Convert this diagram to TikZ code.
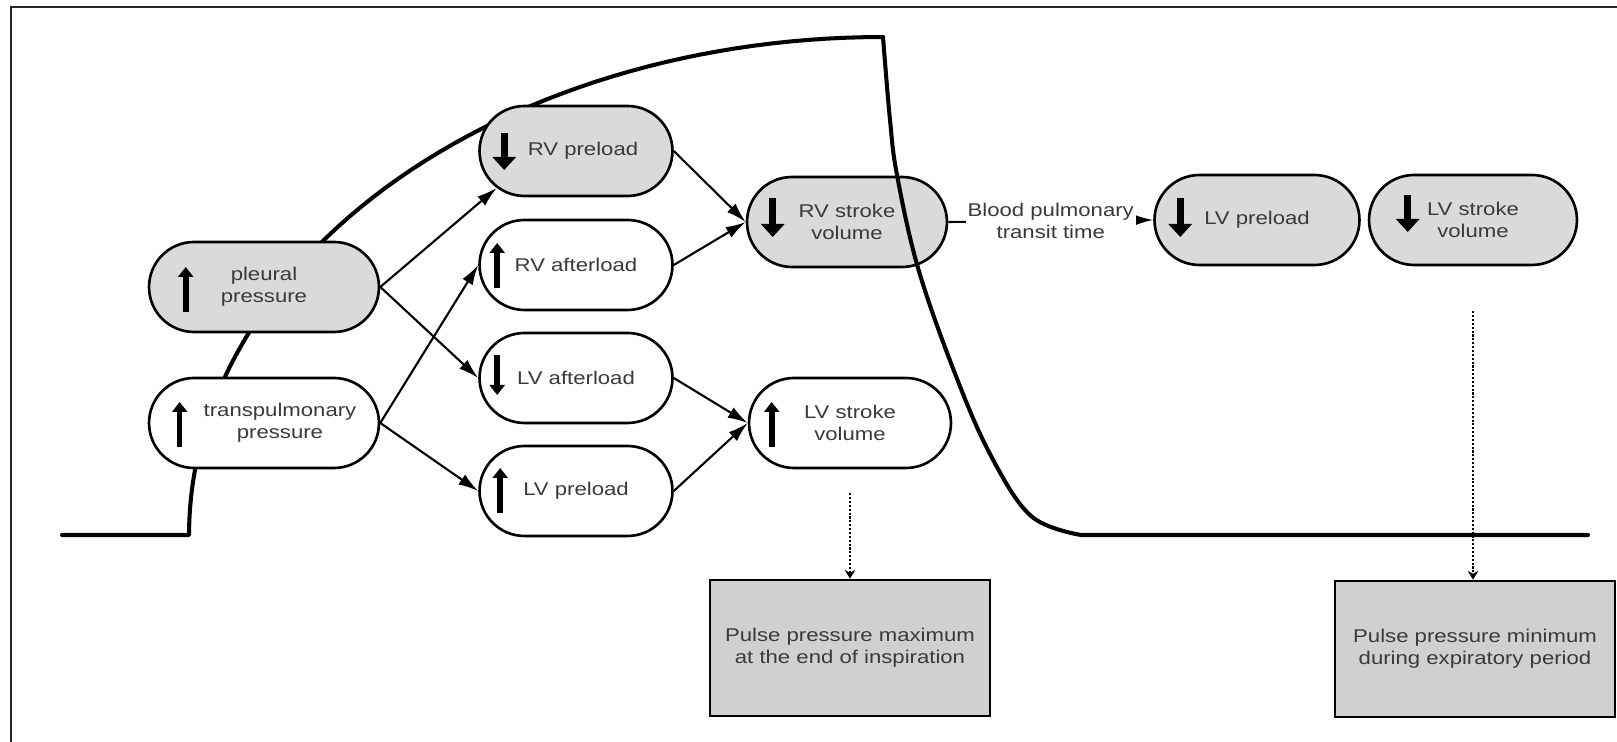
\documentclass[tikz,border=0pt]{standalone}
\usepackage{fontspec}
\setmainfont{Liberation Sans}[FakeStretch=1.2]
\usepackage{tikz}
\usetikzlibrary{arrows.meta,calc,shapes.misc}

\definecolor{stategray}{HTML}{DADADA}
\definecolor{notegray}{HTML}{D0D0D0}
\definecolor{txtgray}{HTML}{3A3A3A}

\tikzset{
	state/.style={rounded rectangle, draw, line width=1.5pt, minimum height=1.8cm,
		inner xsep=-0.5cm, inner ysep=2pt, align=center, text=txtgray,
		font=\fontsize{10.5}{12.5}\selectfont},
	notebox/.style={rectangle, draw, line width=1.5pt, fill=notegray,
		minimum width=5.6cm, minimum height=2.72cm, align=center, text=txtgray,
		font=\fontsize{10.5}{12.5}\selectfont},
	curve/.style={line width=2.3pt, line cap=round, line join=round},
	slimarr/.style={line width=3.6pt, -{Triangle[length=0.2cm,width=0.3cm]}},
	widearr/.style={line width=4pt, -{Triangle[length=0.26cm,width=0.46cm]}},
	notearr/.style={densely dotted, line width=1.2pt, -{Stealth[length=5pt,width=6pt]}}
}

\begin{document}
\begin{tikzpicture}[x=0.02cm, y=-0.02cm, >={Latex[length=0.4cm,width=0.24cm]}]
		\useasboundingbox (0,0) rectangle (1617,742);
		\draw[line width=1.4pt, black!85] (1617,7) -- (11,7) -- (11,742);

		% inspiration
		\draw[curve] (62,535) -- (189,535)
		-- plot[domain=0:90, samples=60] ({883-694*cos(\x)}, {535-498*sin(\x)});

		\node[state, fill=stategray, minimum width=3.6cm] (pl) at (264,287) {pleural\\pressure};
		\node[state, fill=white, minimum width=3.6cm] (tp) at (264,423)
			{\makebox[0pt]{\hspace*{0.64cm}transpulmonary}\\\makebox[0pt]{\hspace*{0.64cm}pressure}};
		\node[state, fill=stategray, minimum width=2.86cm] (rvpre) at (576,151) {\hspace*{0.28cm}RV preload};
		\node[state, fill=white, minimum width=2.86cm] (rvaft) at (576,265) {RV afterload};
		\node[state, fill=white, minimum width=2.86cm] (lvaft) at (576,378) {LV afterload};
		\node[state, fill=white, minimum width=2.86cm] (lvpre) at (576,491) {LV preload};
		\node[state, fill=stategray, minimum width=3cm] (rvsv) at (847,222) {RV stroke\\volume};
		\node[state, fill=white, minimum width=3.04cm] (lvsv) at (850,423) {LV stroke\\volume};
		\node[state, fill=stategray, minimum width=3.1cm] (lvpre2) at (1257,220) {LV preload};
		\node[state, fill=stategray, minimum width=3.16cm] (lvsv2) at (1473,220) {LV stroke\\volume};

		\node[notebox] (box1) at (850,648) {Pulse pressure maximum\\at the end of inspiration};
		\node[notebox] (box2) at (1475,649) {Pulse pressure minimum\\during expiratory period};

		% expiration
		\draw[curve] plot[smooth, tension=0.6] coordinates {(883,37) (890,120) (897,175) (918,268) (954,371) (990,454) (1031,516) (1081,535)} -- (1588,535);

		\path[->, line width=1.2pt]
		(pl.east) edge (rvpre.205)
		edge (lvaft.west)
		(tp.east) edge (rvaft.west)
		edge (lvpre.west)
		(rvpre.east) edge (rvsv.west)
		(rvaft.east) edge (rvsv.west)
		(lvaft.east) edge (lvsv.west)
		(lvpre.east) edge (lvsv.west)
		(rvsv.east) edge node [fill=white, inner sep=1pt, align=center, text=txtgray,
			font=\fontsize{10.5}{12.5}\selectfont] {Blood pulmonary\\transit time} (lvpre2.west)
		;

		\draw[slimarr] ($(pl.west)+(38,25)$) -- ++(0,-45);
		\draw[slimarr, line width=3pt] ($(tp.west)+(32,24)$) -- ++(0,-45);
		\draw[widearr] ($(rvpre.west)+(26,-18)$) -- ++(0,37);
		\draw[slimarr] ($(rvaft.west)+(19,23)$) -- ++(0,-45);
		\draw[slimarr] ($(lvaft.west)+(19,-23)$) -- ++(0,40);
		\draw[slimarr] ($(lvpre.west)+(22,22)$) -- ++(0,-45);
		\draw[widearr] ($(rvsv.west)+(27,-24)$) -- ++(0,39);
		\draw[slimarr] ($(lvsv.west)+(24,24)$) -- ++(0,-45);
		\draw[widearr] ($(lvpre2.west)+(27,-22)$) -- ++(0,39);
		\draw[widearr] ($(lvsv2.west)+(40,-25)$) -- ++(0,37);

		\draw[notearr, shorten <=0.48cm] (lvsv.south) -- (box1.north);
		\draw[notearr, shorten <=0.9cm] (lvsv2.south) -- (lvsv2.south |- box2.north);
\end{tikzpicture}
\end{document}
